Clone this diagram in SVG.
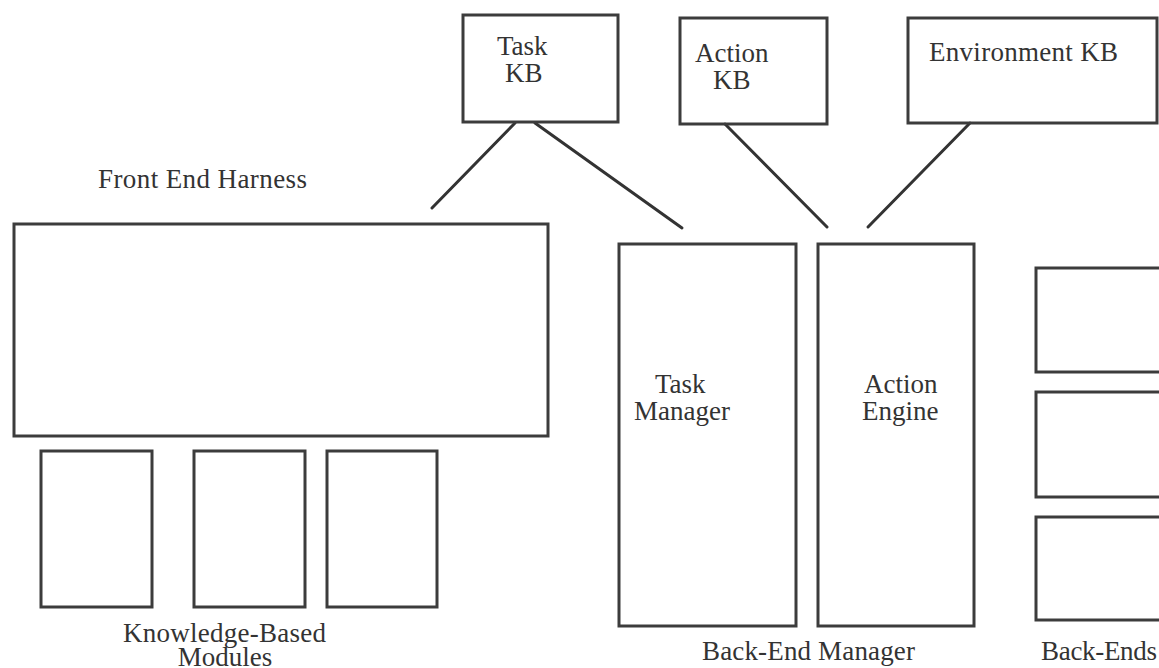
<svg xmlns="http://www.w3.org/2000/svg" width="1159" height="668" viewBox="0 0 1159 668">
<style>
.box{fill:none;stroke:#3c3c3c;stroke-width:3}
.ln{stroke:#333;stroke-width:3;stroke-linecap:round;fill:none}
text{font-family:"Liberation Serif","Times New Roman",serif;font-size:27px;fill:#333}
</style>
<rect width="1159" height="668" fill="#fff"/>
<g id="connectors">
<line class="ln" x1="515" y1="123" x2="432" y2="208"/>
<line class="ln" x1="535" y1="123" x2="682" y2="228"/>
<line class="ln" x1="725" y1="124" x2="827" y2="227"/>
<line class="ln" x1="970" y1="123" x2="868" y2="227"/>
</g>
<g id="task-kb">
<rect class="box" x="463" y="15" width="155" height="107"/>
<text x="497" y="55">Task</text>
<text x="505" y="82">KB</text>
</g>
<g id="action-kb">
<rect class="box" x="680" y="18" width="147" height="106"/>
<text x="695" y="62">Action</text>
<text x="713" y="89">KB</text>
</g>
<g id="environment-kb">
<rect class="box" x="908" y="18" width="249" height="105"/>
<text x="929" y="61" textLength="189">Environment KB</text>
</g>
<g id="front-end-harness">
<text x="98" y="188" textLength="209">Front End Harness</text>
<rect class="box" x="14" y="224" width="534" height="212"/>
</g>
<g id="kb-module-1">
<rect class="box" x="41" y="451" width="111" height="156"/>
</g>
<g id="kb-module-2">
<rect class="box" x="194" y="451" width="111" height="156"/>
</g>
<g id="kb-module-3">
<rect class="box" x="327" y="451" width="110" height="156"/>
</g>
<g id="kb-label">
<text x="224.5" y="642" text-anchor="middle" textLength="203">Knowledge-Based</text>
<text x="225" y="666" text-anchor="middle">Modules</text>
</g>
<g id="task-manager">
<rect class="box" x="619" y="244" width="177" height="382"/>
<text x="655" y="393">Task</text>
<text x="634" y="420">Manager</text>
</g>
<g id="action-engine">
<rect class="box" x="818" y="244" width="156" height="382"/>
<text x="864" y="393">Action</text>
<text x="862" y="420">Engine</text>
</g>
<g id="back-end-manager-label">
<text x="702" y="660" textLength="213">Back-End Manager</text>
</g>
<g id="back-end-1">
<rect class="box" x="1036" y="268" width="130" height="104"/>
</g>
<g id="back-end-2">
<rect class="box" x="1036" y="392" width="130" height="105"/>
</g>
<g id="back-end-3">
<rect class="box" x="1036" y="517" width="130" height="103"/>
</g>
<g id="back-ends-label">
<text x="1041" y="660" textLength="116">Back-Ends</text>
</g>
</svg>
